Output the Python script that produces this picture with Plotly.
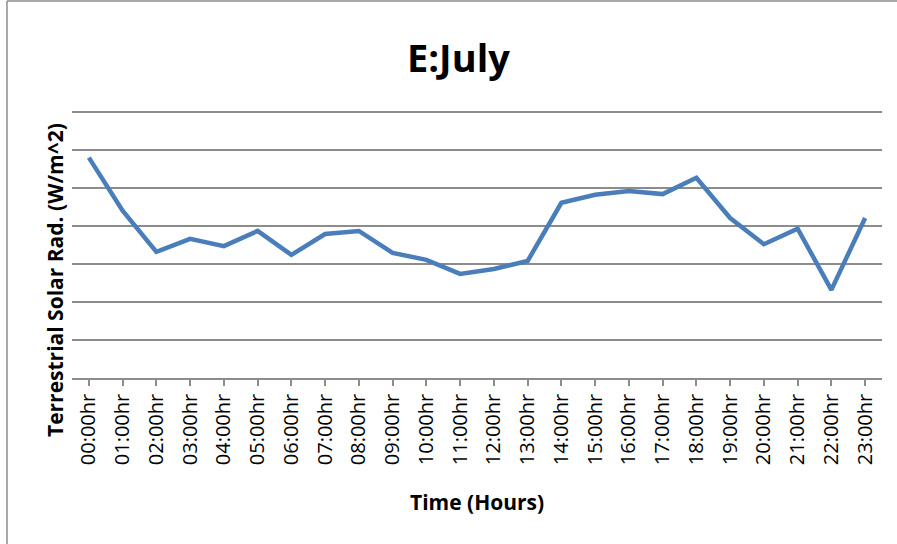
import plotly.graph_objects as go

hours = ["00:00hr", "01:00hr", "02:00hr", "03:00hr", "04:00hr", "05:00hr", "06:00hr", "07:00hr",
         "08:00hr", "09:00hr", "10:00hr", "11:00hr", "12:00hr", "13:00hr", "14:00hr", "15:00hr",
         "16:00hr", "17:00hr", "18:00hr", "19:00hr", "20:00hr", "21:00hr", "22:00hr", "23:00hr"]
radiation = [5.80, 4.40, 3.32, 3.66, 3.47, 3.87, 3.24, 3.79,
             3.87, 3.29, 3.11, 2.74, 2.87, 3.08, 4.61, 4.82,
             4.92, 4.84, 5.27, 4.21, 3.52, 3.93, 2.32, 4.21]

W, H = 897, 544
L, R, T, B = 72, 15, 106, 166
pw, ph = W - L - R, H - T - B
ytop = ph / 38.0  # one gridline unit = 38 px; top gridline sits inside the plot area

def px(x):
    return (x - L) / pw

def py(y):
    return (H - B - y) / ph

fig = go.Figure(go.Scatter(
    x=list(range(len(hours))), y=radiation, mode="lines",
    line=dict(color="#4a7ebb", width=4.5), hoverinfo="skip"))

font = "Open Sans, Liberation Sans, sans-serif"
fig.update_layout(
    width=W, height=H, margin=dict(l=L, r=R, t=T, b=B, autoexpand=False),
    paper_bgcolor="white", plot_bgcolor="white", showlegend=False,
    font=dict(family=font, color="black"),
    xaxis=dict(tickmode="array", tickvals=list(range(len(hours))), ticktext=hours,
               tickangle=-90, range=[-0.5, 23.5], showgrid=False,
               showline=True, linecolor="#8c8c8c", linewidth=1.5,
               ticks="outside", ticklen=6, tickcolor="#8c8c8c", tickwidth=1.5,
               tickfont=dict(size=20, family=font), zeroline=False),
    yaxis=dict(range=[0, ytop], tickmode="linear", tick0=0, dtick=1,
               showticklabels=False, showgrid=True,
               gridcolor="#8c8c8c", gridwidth=1.5, zeroline=False, showline=False),
    annotations=[
        dict(text="<b>E:July</b>", x=px(458), y=py(57), xref="paper", yref="paper",
             showarrow=False, font=dict(size=38, family=font), xanchor="center", yanchor="middle"),
        dict(text="<b>Terrestrial Solar Rad. (W/m^2)</b>", x=px(55), y=py(280),
             xref="paper", yref="paper", showarrow=False, textangle=-90,
             font=dict(size=21, family=font), xanchor="center", yanchor="middle"),
        dict(text="<b>Time (Hours)</b>", x=px(477), y=py(502), xref="paper", yref="paper",
             showarrow=False, font=dict(size=21, family=font), xanchor="center", yanchor="middle"),
    ],
    shapes=[
        dict(type="line", xref="paper", yref="paper", x0=px(7), x1=px(7), y0=py(1), y1=py(560),
             line=dict(color="#8c8c8c", width=1.5)),
        dict(type="line", xref="paper", yref="paper", x0=px(7), x1=px(910), y0=py(1), y1=py(1),
             line=dict(color="#8c8c8c", width=1.5)),
    ],
)

fig.write_html("out.html", config={"displayModeBar": False},
               post_script="document.body.style.margin='0';")
